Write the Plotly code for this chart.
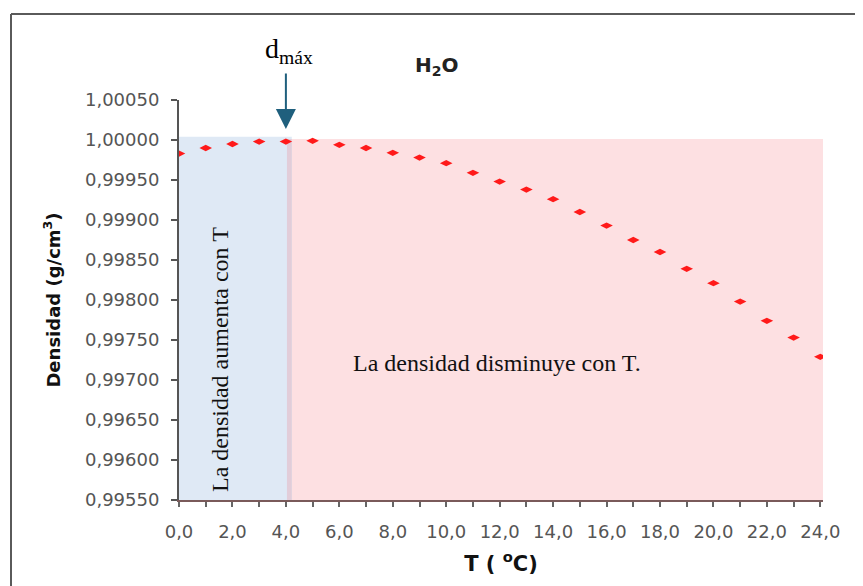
import plotly.graph_objects as go

temps = list(range(0, 25))
density = [0.99983, 0.99990, 0.99995, 0.99998, 0.99998, 0.99999, 0.99994, 0.99990,
           0.99984, 0.99978, 0.99971, 0.99959, 0.99948, 0.99938, 0.99926, 0.99910,
           0.99893, 0.99875, 0.99860, 0.99839, 0.99821, 0.99798, 0.99774, 0.99753,
           0.99729]

x_tickvals = list(range(0, 25))
x_ticktext = [f"{v},0" if v % 2 == 0 else "" for v in x_tickvals]
y_tickvals = [0.99550, 0.99600, 0.99650, 0.99700, 0.99750, 0.99800, 0.99850,
              0.99900, 0.99950, 1.00000, 1.00050]
y_ticktext = ["0,99550", "0,99600", "0,99650", "0,99700", "0,99750", "0,99800",
              "0,99850", "0,99900", "0,99950", "1,00000", "1,00050"]

OFF = 8  # page body margin
W, H = 863 - OFF, 586 - OFF
L, T = 179 - OFF, 100 - OFF
R = W - (823 - OFF)
B = H - (500 - OFF)
pw, ph = W - L - R, H - T - B

def px(x):
    return (x - OFF - L) / pw

def py(y):
    return (H - B - (y - OFF)) / ph

fig = go.Figure()
fig.add_trace(go.Scatter(
    x=temps, y=density, mode="markers",
    marker=dict(symbol="diamond-wide", size=9, color="#ff1a1a"),
    hoverinfo="skip", showlegend=False))

shapes = [
    dict(type="rect", xref="x", yref="y", x0=4.04, x1=24.1, y0=0.99550, y1=1.000012,
         fillcolor="#fde0e2", line=dict(width=0), layer="below"),
    dict(type="rect", xref="x", yref="y", x0=0, x1=4.22, y0=0.99550, y1=1.00004,
         fillcolor="#dfe9f5", line=dict(width=0), layer="below"),
    dict(type="rect", xref="x", yref="y", x0=4.04, x1=4.22, y0=0.99550, y1=1.000012,
         fillcolor="#e2cdd9", line=dict(width=0), layer="below"),
    # outer border (top and left only)
    dict(type="line", xref="paper", yref="paper", x0=px(11), x1=px(870), y0=py(14), y1=py(14),
         line=dict(color="#5a5a5a", width=2)),
    dict(type="line", xref="paper", yref="paper", x0=px(11), x1=px(11), y0=py(14), y1=py(600),
         line=dict(color="#5a5a5a", width=2)),
]

annotations = [
    dict(text="d<sub>máx</sub>", xref="paper", yref="paper", x=px(289), y=py(50),
         xanchor="center", yanchor="middle",
         showarrow=False, font=dict(family="Liberation Serif", size=28, color="black")),
    dict(text="", xref="x", yref="y", x=4.0, y=1.000138, ax=0, ay=-57,
         showarrow=True, arrowhead=2, arrowsize=2,
         arrowwidth=2, arrowcolor="#1f5f7d"),
    dict(text="<b>H<sub>2</sub>O</b>", xref="paper", yref="paper", x=px(437), y=py(66),
         xanchor="center", yanchor="middle",
         showarrow=False, font=dict(family="DejaVu Sans", size=20, color="#222")),
    dict(text="La densidad aumenta con T", xref="paper", yref="paper", x=px(220),
         y=py(360), textangle=-90, showarrow=False, xanchor="center", yanchor="middle",
         font=dict(family="Liberation Serif", size=24, color="#111")),
    dict(text="La densidad disminuye con T.", xref="paper", yref="paper", x=px(497), y=py(363),
         xanchor="center", yanchor="middle",
         showarrow=False, font=dict(family="Liberation Serif", size=24, color="#111")),
]

fig.update_layout(
    width=W, height=H,
    margin=dict(l=L, r=R, t=T, b=B),
    paper_bgcolor="white", plot_bgcolor="white",
    shapes=shapes, annotations=annotations,
    xaxis=dict(range=[0, 24.1], tickvals=x_tickvals, ticktext=x_ticktext,
               ticks="outside", ticklen=5, tickwidth=2, tickcolor="#666",
               showline=True, linecolor="#7a5a5a", linewidth=2,
               showgrid=False, zeroline=False, ticklabelstandoff=9,
               tickfont=dict(family="DejaVu Sans", size=18, color="#555"),
               title=dict(text="<b>T ( <sup>o</sup>C)</b>", standoff=16,
                          font=dict(family="DejaVu Sans", size=21, color="#111"))),
    yaxis=dict(range=[0.99550, 1.00050], tickvals=y_tickvals, ticktext=y_ticktext,
               ticks="outside", ticklen=6, tickwidth=2, tickcolor="#555",
               showline=True, linecolor="#555", linewidth=2,
               showgrid=False, zeroline=False, ticklabelstandoff=8,
               tickfont=dict(family="DejaVu Sans", size=18, color="#555"),
               title=dict(text="<b>Densidad (g/cm<sup>3</sup>)</b>", standoff=20,
                          font=dict(family="DejaVu Sans", size=18, color="#111"))),
)

fig.write_html("out.html")
